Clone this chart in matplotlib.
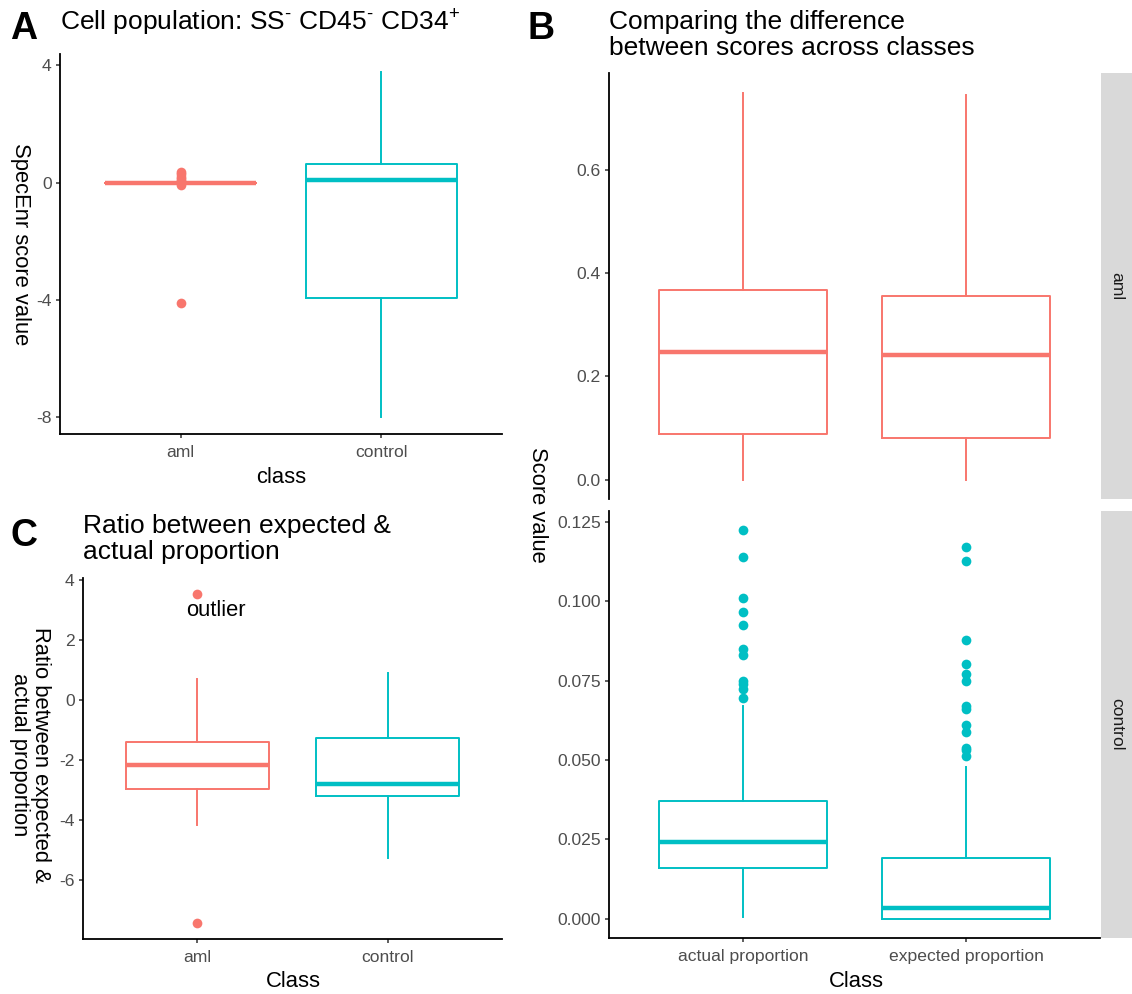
import matplotlib.pyplot as plt
from matplotlib.ticker import FormatStrFormatter

# ---------------- DADOS ----------------
classes = ['aml', 'control']
cores = ['#F8766D', '#00BFC4']

# Painel A - SpecEnr score
a_lo = [0.0, -8.0]
a_q1 = [0.0, -3.95]
a_med = [0.0, 0.10]
a_q3 = [0.0, 0.64]
a_hi = [0.0, 3.79]
a_fliers = [[0.35, 0.28, 0.20, 0.12, 0.05, -0.03, -0.08, -4.1], []]

# Painel C - razão esperado / atual
c_lo = [-4.17, -5.28]
c_q1 = [-2.98, -3.21]
c_med = [-2.17, -2.79]
c_q3 = [-1.41, -1.28]
c_hi = [0.70, 0.89]
c_fliers = [[3.53, -7.42], []]

# Painel B - scores por classe (facetas aml / control)
props = ['actual proportion', 'expected proportion']
b_aml_lo = [0.0, 0.0]
b_aml_q1 = [0.089, 0.081]
b_aml_med = [0.247, 0.241]
b_aml_q3 = [0.367, 0.355]
b_aml_hi = [0.749, 0.745]

b_ctl_lo = [0.0005, 0.0]
b_ctl_q1 = [0.0158, 0.0]
b_ctl_med = [0.0240, 0.0032]
b_ctl_q3 = [0.0372, 0.0192]
b_ctl_hi = [0.0669, 0.0477]
b_ctl_fliers = [[0.1224, 0.1139, 0.1010, 0.0965, 0.0924, 0.0849, 0.0830,
                 0.0750, 0.0740, 0.0724, 0.0696],
                [0.1171, 0.1126, 0.0878, 0.0803, 0.0770, 0.0749, 0.0669,
                 0.0661, 0.0609, 0.0587, 0.0538, 0.0530, 0.0511]]

# ---------------- ESTILO ----------------
plt.rcParams['font.family'] = ['Liberation Sans', 'DejaVu Sans']
plt.rcParams['mathtext.fontset'] = 'custom'
plt.rcParams['mathtext.rm'] = 'Liberation Sans'
plt.rcParams['mathtext.it'] = 'Liberation Sans:italic'
plt.rcParams['axes.unicode_minus'] = False

W, H = 1132, 994
fig = plt.figure(figsize=(W / 100, H / 100), dpi=100)

tam_tick = 12.6
tam_eixo = 15.8
tam_titulo = 19
cor_tick = '#4D4D4D'


def eixo(l, t, r, b):
    # cria eixo a partir de coordenadas em pixels
    return fig.add_axes([l / W, 1 - b / H, (r - l) / W, (b - t) / H])


def texto(x, y, s, **kw):
    return fig.text(x / W, 1 - y / H, s, **kw)


def estiliza(ax, com_x=True):
    ax.spines['top'].set_visible(False)
    ax.spines['right'].set_visible(False)
    ax.spines['left'].set_linewidth(1.3)
    ax.spines['bottom'].set_linewidth(1.3)
    ax.tick_params(length=3, width=1.1, color='#333333', labelcolor=cor_tick,
                   labelsize=tam_tick, pad=3)
    ax.tick_params(axis='x', pad=5)
    if not com_x:
        ax.spines['bottom'].set_visible(False)
        ax.tick_params(axis='x', bottom=False, labelbottom=False)


def caixas(ax, lo, q1, med, q3, hi, fliers, cores_cx):
    for i in range(len(med)):
        st = dict(whislo=lo[i], q1=q1[i], med=med[i], q3=q3[i], whishi=hi[i],
                  fliers=fliers[i])
        c = cores_cx[i]
        ax.bxp([st], positions=[i], widths=0.75, showcaps=False,
               boxprops=dict(color=c, lw=1.4),
               whiskerprops=dict(color=c, lw=1.4),
               medianprops=dict(color=c, lw=3.2, solid_capstyle='butt'),
               flierprops=dict(marker='o', markerfacecolor=c, markeredgecolor='none',
                               markersize=7, linestyle='none'))
    ax.set_xlim(-0.6, len(med) - 0.4)


# ---------------- PAINEL A ----------------
axA = eixo(60, 54, 502, 434)
caixas(axA, a_lo, a_q1, a_med, a_q3, a_hi, a_fliers, cores)
axA.set_ylim(-8.59, 4.39)
axA.set_yticks([-8, -4, 0, 4])
axA.set_xticks([0, 1], classes)
estiliza(axA)
texto(60, 31, r'Cell population: SS$^{‐}$ CD45$^{‐}$ CD34$^{+}$', fontsize=tam_titulo)
texto(20, 244, 'SpecEnr score value', fontsize=tam_eixo, rotation=270, ha='center', va='center')
texto(281, 483, 'class', fontsize=tam_eixo, ha='center', va='baseline')

# ---------------- PAINEL C ----------------
axC = eixo(83, 578, 502, 939)
caixas(axC, c_lo, c_q1, c_med, c_q3, c_hi, c_fliers, cores)
axC.set_ylim(-7.97, 4.07)
axC.set_yticks([-6, -4, -2, 0, 2, 4])
axC.set_xticks([0, 1], classes)
estiliza(axC)
axC.text(0.1, 3.0, 'outlier', fontsize=tam_eixo, ha='center', va='center')
texto(83, 559, 'Ratio between expected &\nactual proportion', fontsize=tam_titulo,
      va='baseline', linespacing=1.08)
texto(30, 755, 'Ratio between expected &\nactual proportion', fontsize=tam_eixo,
      rotation=270, ha='center', va='center', multialignment='center', linespacing=1.0)
texto(293, 987, 'Class', fontsize=tam_eixo, ha='center', va='baseline')

# ---------------- PAINEL B ----------------
axB1 = eixo(609, 73, 1100, 499)
caixas(axB1, b_aml_lo, b_aml_q1, b_aml_med, b_aml_q3, b_aml_hi, [[], []], [cores[0]] * 2)
axB1.set_ylim(-0.0375, 0.7875)
axB1.set_yticks([0, 0.2, 0.4, 0.6])
axB1.yaxis.set_major_formatter(FormatStrFormatter('%.1f'))
estiliza(axB1, com_x=False)

axB2 = eixo(609, 511, 1100, 938)
caixas(axB2, b_ctl_lo, b_ctl_q1, b_ctl_med, b_ctl_q3, b_ctl_hi, b_ctl_fliers, [cores[1]] * 2)
axB2.set_ylim(-0.0061, 0.1284)
axB2.set_yticks([0, 0.025, 0.05, 0.075, 0.1, 0.125])
axB2.yaxis.set_major_formatter(FormatStrFormatter('%.3f'))
axB2.set_xticks([0, 1], props)
estiliza(axB2)

# faixas das facetas
for (t, b), rot in zip([(73, 499), (511, 938)], ['aml', 'control']):
    fx = eixo(1101, t, 1132, b)
    fx.set_facecolor('#D9D9D9')
    fx.set_xticks([])
    fx.set_yticks([])
    for s in fx.spines.values():
        s.set_visible(False)
    fx.text(0.5, 0.5, rot, transform=fx.transAxes, rotation=270, ha='center',
            va='center', fontsize=tam_tick, color='#1A1A1A')

texto(609, 55, 'Comparing the difference\nbetween scores across classes', fontsize=tam_titulo,
      va='baseline', linespacing=1.08)
texto(537, 505, 'Score value', fontsize=tam_eixo, rotation=270, ha='center', va='center')
texto(856, 987, 'Class', fontsize=tam_eixo, ha='center', va='baseline')

# letras dos painéis
texto(10, 39, 'A', fontsize=27, fontweight='bold', va='baseline')
texto(528, 39, 'B', fontsize=27, fontweight='bold', va='baseline')
texto(10, 546, 'C', fontsize=27, fontweight='bold', va='baseline')

plt.savefig('out.png', dpi=100)
